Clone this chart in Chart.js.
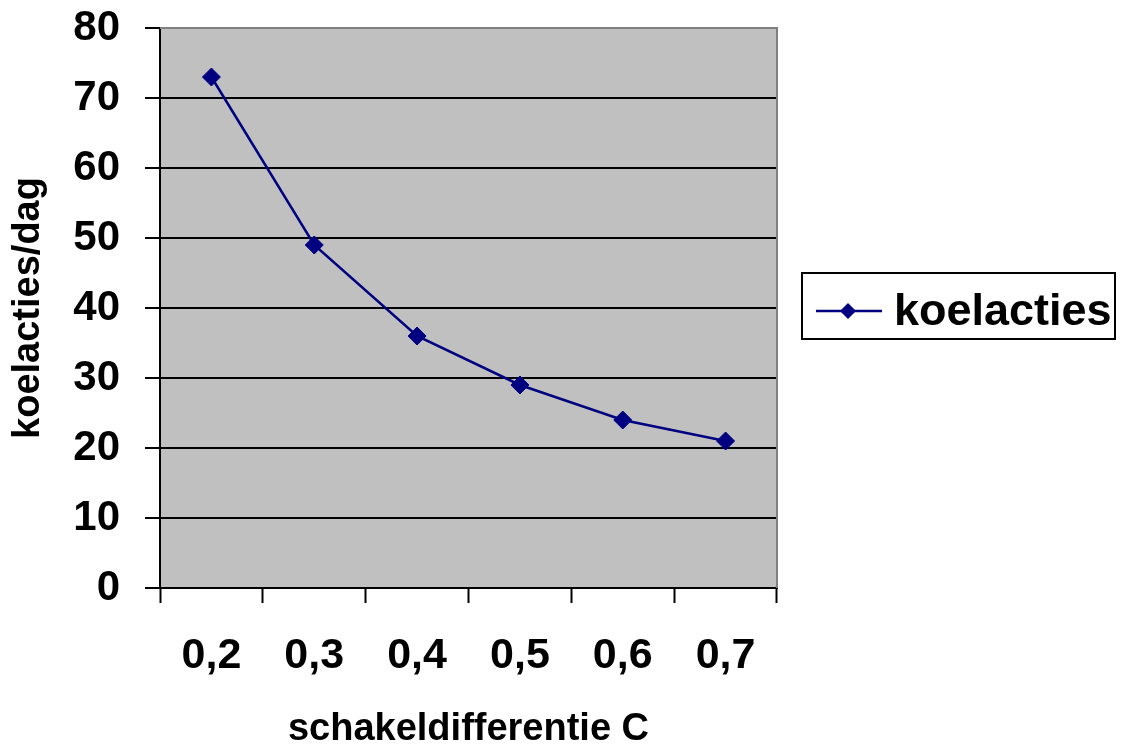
<!DOCTYPE html>
<html>
<head>
<meta charset="utf-8">
<script src="https://cdn.jsdelivr.net/npm/chart.js@4"></script>
<style>
  html, body { margin: 0; padding: 0; background: #ffffff; }
  #wrap { position: relative; width: 1131px; height: 749px; }
</style>
</head>
<body>
<div id="wrap"><canvas id="chart" width="1131" height="749"></canvas></div>
<script>
// Waarden
const categories = ['0,2', '0,3', '0,4', '0,5', '0,6', '0,7'];
const koelacties = [73, 49, 36, 29, 24, 21];
const yTicks = [0, 10, 20, 30, 40, 50, 60, 70, 80];
const seriesName = 'koelacties';
const xTitle = 'schakeldifferentie C';
const yTitle = 'koelacties/dag';

const FONT = 'Arial, "Liberation Sans", sans-serif';
const NAVY = '#000080';

// Plot frame and background
const plotFrame = {
  id: 'plotFrame',
  beforeDraw(chart) {
    const { ctx, chartArea: a } = chart;
    ctx.save();
    ctx.fillStyle = '#c0c0c0';
    ctx.fillRect(a.left, a.top, a.right - a.left, a.bottom - a.top);
    ctx.restore();
  },
  afterDatasetsDraw(chart) {
    const { ctx, chartArea: a } = chart;
    ctx.save();
    ctx.strokeStyle = '#808080';
    ctx.lineWidth = 2;
    ctx.beginPath();
    ctx.moveTo(a.left, a.top);
    ctx.lineTo(a.right, a.top);
    ctx.lineTo(a.right, a.bottom);
    ctx.stroke();
    ctx.restore();
  }
};

// Boxed legend to the right of the plot
const boxedLegend = {
  id: 'boxedLegend',
  afterDraw(chart) {
    const { ctx } = chart;
    const ds = chart.data.datasets[0];
    const x0 = 802, y0 = 273, w = 313, h = 66, cy = 311;
    ctx.save();
    ctx.fillStyle = '#ffffff';
    ctx.fillRect(x0, y0, w, h);
    ctx.strokeStyle = '#000000';
    ctx.lineWidth = 2;
    ctx.strokeRect(x0, y0, w, h);
    ctx.strokeStyle = ds.borderColor;
    ctx.lineWidth = 2.5;
    ctx.beginPath();
    ctx.moveTo(816, cy);
    ctx.lineTo(882, cy);
    ctx.stroke();
    ctx.fillStyle = ds.pointBackgroundColor;
    ctx.beginPath();
    ctx.moveTo(848, cy - 8);
    ctx.lineTo(856, cy);
    ctx.lineTo(848, cy + 8);
    ctx.lineTo(840, cy);
    ctx.closePath();
    ctx.fill();
    ctx.fillStyle = '#000000';
    ctx.font = 'bold 45px ' + FONT;
    ctx.textBaseline = 'middle';
    ctx.textAlign = 'left';
    ctx.fillText(ds.label, 894, cy + 2);
    ctx.restore();
  }
};

new Chart(document.getElementById('chart'), {
  type: 'line',
  data: {
    labels: categories,
    datasets: [{
      label: seriesName,
      data: koelacties,
      borderColor: NAVY,
      backgroundColor: NAVY,
      pointBackgroundColor: NAVY,
      pointBorderColor: NAVY,
      pointStyle: 'rectRot',
      pointRadius: 9,
      pointBorderWidth: 1,
      borderWidth: 2.5,
      tension: 0
    }]
  },
  options: {
    responsive: false,
    animation: false,
    devicePixelRatio: 1,
    layout: { padding: { left: 0, top: 28, right: 354, bottom: 0 } },
    plugins: {
      legend: { display: false },
      tooltip: { enabled: false }
    },
    scales: {
      x: {
        type: 'category',
        offset: true,
        afterFit(scale) { scale.height = 161; },
        grid: {
          offset: true,
          drawOnChartArea: false,
          drawTicks: true,
          tickLength: 15,
          tickColor: '#000000',
          tickWidth: 2
        },
        border: { display: true, color: '#000000', width: 2 },
        ticks: {
          color: '#000000',
          font: { family: FONT, size: 43, weight: 'bold' },
          padding: 27,
          maxRotation: 0
        },
        title: {
          display: true,
          text: xTitle,
          color: '#000000',
          font: { family: FONT, size: 38, weight: 'bold', lineHeight: 1.05 },
          padding: { top: 0, bottom: 0 }
        }
      },
      y: {
        min: 0,
        max: 80,
        afterFit(scale) {
          scale.width = 160;
          scale.paddingTop = 0;
          scale.paddingBottom = 0;
        },
        afterBuildTicks(scale) { scale.ticks = yTicks.map(v => ({ value: v })); },
        grid: {
          color: '#000000',
          lineWidth: 2,
          drawTicks: true,
          tickLength: 15,
          tickColor: '#000000'
        },
        border: { display: true, color: '#000000', width: 2 },
        ticks: {
          color: '#000000',
          font: { family: FONT, size: 42, weight: 'bold' },
          padding: 25
        },
        title: {
          display: true,
          text: yTitle,
          color: '#000000',
          font: { family: FONT, size: 38, weight: 'bold' },
          padding: { top: 6, bottom: 0 }
        }
      }
    }
  },
  plugins: [plotFrame, boxedLegend]
});
</script>
</body>
</html>
